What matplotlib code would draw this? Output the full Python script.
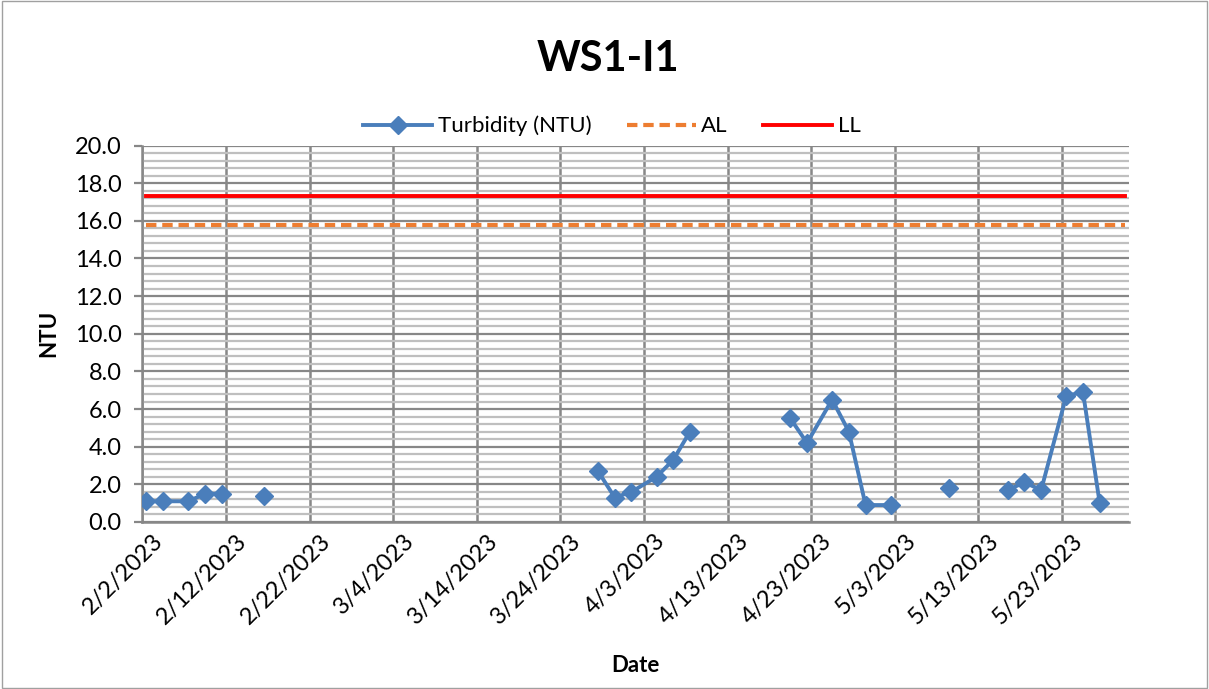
import datetime as dt
import numpy as np
import matplotlib
matplotlib.use("Agg")
import matplotlib.pyplot as plt
import matplotlib.dates as mdates
from matplotlib.transforms import ScaledTranslation
from matplotlib.patches import Rectangle

plt.rcParams['font.family'] = ['Lato', 'DejaVu Sans']

# sample dates (blank readings kept as nan, like empty cells in the sheet)
dates = ["2023-02-02", "2023-02-04", "2023-02-07", "2023-02-09", "2023-02-11",
         "2023-02-14", "2023-02-16", "2023-03-01",
         "2023-03-28", "2023-03-30", "2023-04-01", "2023-04-04", "2023-04-06",
         "2023-04-08", "2023-04-14",
         "2023-04-20", "2023-04-22", "2023-04-25", "2023-04-27", "2023-04-29",
         "2023-05-02", "2023-05-06", "2023-05-09", "2023-05-12",
         "2023-05-16", "2023-05-18", "2023-05-20", "2023-05-23", "2023-05-25",
         "2023-05-27", "2023-05-30"]
turbidity = [1.1, 1.1, 1.1, 1.5, 1.5,
             np.nan, 1.4, np.nan,
             2.7, 1.3, 1.6, 2.4, 3.3,
             4.8, np.nan,
             5.5, 4.2, 6.5, 4.8, 0.9,
             0.9, np.nan, 1.8, np.nan,
             1.7, 2.1, 1.7, 6.7, 6.9,
             1.0, np.nan]
AL = 15.8
LL = 17.3

start = dt.date(2023, 2, 2)
end = dt.date(2023, 5, 31)
tick_dates = [start + dt.timedelta(days=10 * k) for k in range(12)]

x = mdates.date2num([dt.date.fromisoformat(d) for d in dates]) + 0.5
y = np.array(turbidity)

fig = plt.figure(figsize=(12.09, 6.89), dpi=100)
ax = fig.add_axes([0.1177, 0.2424, 0.8161, 0.5464])

ax.plot(x, y, color="#4A7EBB", lw=2.8, marker="D", ms=9.5, label="Turbidity (NTU)", zorder=5)
ax.plot([x[0], x[-1]], [AL, AL], color="#ED7D31", lw=3.0, ls=(0, (2.5, 1.4)),
        label="AL", zorder=4)
ax.plot([x[0], x[-1]], [LL, LL], color="#FF0000", lw=2.8, label="LL", zorder=4)

ax.set_xlim(mdates.date2num(start), mdates.date2num(end))
ax.set_ylim(0, 20)
ax.set_yticks(np.arange(0, 20.1, 2.0))
ax.set_yticks(np.arange(0, 20.1, 0.4), minor=True)
ax.set_yticklabels([f"{v:.1f}" for v in np.arange(0, 20.1, 2.0)])
ax.set_xticks(mdates.date2num(tick_dates))
ax.set_xticklabels([f"{d.month}/{d.day}/{d.year}" for d in tick_dates],
                   rotation=45, ha="right", va="top", rotation_mode="anchor")

ax.grid(True, which="minor", axis="y", color="#BFBFBF", lw=1.6)
ax.grid(True, which="major", axis="y", color="#878787", lw=1.6)
ax.grid(True, which="major", axis="x", color="#878787", lw=1.8)
ax.set_axisbelow(True)

for s in ["top", "right"]:
    ax.spines[s].set_visible(False)
for s in ["left", "bottom"]:
    ax.spines[s].set_color("#878787")
    ax.spines[s].set_linewidth(1.8)

ax.tick_params(axis="y", which="major", length=6, width=1.6, color="#878787",
               labelsize=17, pad=9)
ax.tick_params(axis="y", which="minor", length=0)
ax.tick_params(axis="x", length=0, labelsize=17, pad=6)
for lbl in ax.get_xticklabels():
    lbl.set_transform(lbl.get_transform() + ScaledTranslation(0.1, 0, fig.dpi_scale_trans))

ax.set_xlabel("Date", fontsize=16, fontweight="bold", labelpad=19)
ax.set_ylabel("NTU", fontsize=16, fontweight="bold", labelpad=11)

fig.suptitle("WS1-I1", x=0.503, y=0.942, fontsize=30, fontweight="bold")
fig.legend(loc="center", bbox_to_anchor=(0.506, 0.817), ncol=3, frameon=False,
           fontsize=16, handlelength=3.1, handletextpad=0.25, columnspacing=1.6)

fig.patches.append(Rectangle((0.002, 0.002), 0.996, 0.996, transform=fig.transFigure,
                             fill=False, edgecolor="#A0A0A0", lw=1))

fig.savefig("out.png", dpi=100)
